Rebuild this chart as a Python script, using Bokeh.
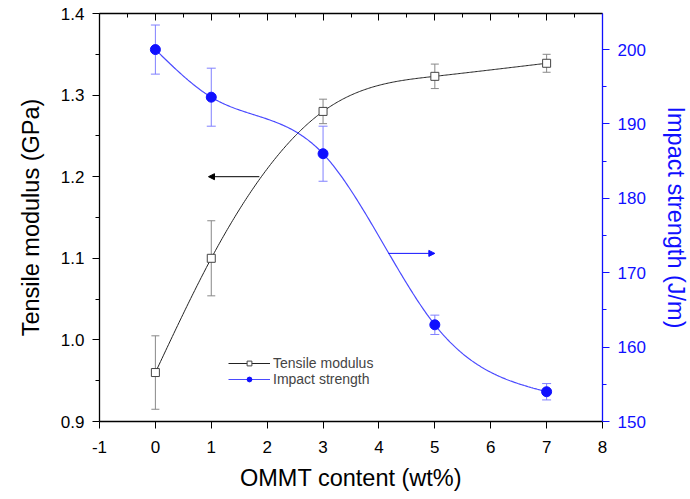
import numpy as np
from bokeh.plotting import figure
from bokeh.models import (Range1d, LinearAxis, FixedTicker, Whisker, TeeHead,
                          ColumnDataSource, Arrow, NormalHead, Legend, LegendItem,
                          PrintfTickFormatter, CustomJSTickFormatter)
from bokeh.embed import file_html
from bokeh.resources import INLINE

# ---- data ----
ommt = [0, 1, 3, 5, 7]
tensile = [0.960, 1.100, 1.280, 1.323, 1.339]
tensile_err = [0.045, 0.046, 0.015, 0.015, 0.011]
impact = [200.0, 193.6, 186.0, 163.0, 154.0]
impact_err = [3.3, 3.9, 3.7, 1.3, 1.1]

# ticks
x_ticks = [-1, 0, 1, 2, 3, 4, 5, 6, 7, 8]
x_minor = [-0.5, 0.5, 1.5, 2.5, 3.5, 4.5, 5.5, 6.5, 7.5]
left_ticks = [0.9, 1.0, 1.1, 1.2, 1.3, 1.4]
left_minor = [0.95, 1.05, 1.15, 1.25, 1.35]
right_ticks = [150, 160, 170, 180, 190, 200]
right_minor = [155, 165, 175, 185, 195]

# arrow annotations (x_tail, x_head, y)
arrow_tensile = [1.86, 0.95, 1.2]
arrow_impact = [4.17, 5.0, 172.6]

BLUE = "#1010ff"
FONT = "Liberation Sans"


def natural_spline(xs, ys, n=300):
    x = np.asarray(xs, float)
    y = np.asarray(ys, float)
    m = len(x)
    h = np.diff(x)
    A = np.zeros((m, m))
    b = np.zeros(m)
    A[0, 0] = 1
    A[-1, -1] = 1
    for i in range(1, m - 1):
        A[i, i - 1] = h[i - 1]
        A[i, i] = 2 * (h[i - 1] + h[i])
        A[i, i + 1] = h[i]
        b[i] = 3 * ((y[i + 1] - y[i]) / h[i] - (y[i] - y[i - 1]) / h[i - 1])
    c = np.linalg.solve(A, b)
    bc = (y[1:] - y[:-1]) / h - h * (2 * c[:-1] + c[1:]) / 3
    d = (c[1:] - c[:-1]) / (3 * h)
    xx = np.linspace(x[0], x[-1], n)
    idx = np.clip(np.searchsorted(x, xx) - 1, 0, m - 2)
    dx = xx - x[idx]
    yy = y[idx] + bc[idx] * dx + c[idx] * dx ** 2 + d[idx] * dx ** 3
    return xx, yy


p = figure(frame_width=503, frame_height=408, output_backend="svg", toolbar_location=None,
           x_range=Range1d(-1, 8), y_range=Range1d(0.9, 1.4),
           min_border_left=99, min_border_right=86, min_border_top=13, min_border_bottom=70,
           x_axis_location=None, y_axis_location=None)
p.extra_y_ranges = {"imp": Range1d(150, 204.85)}
p.xgrid.visible = False
p.ygrid.visible = False
p.outline_line_color = None
p.background_fill_color = "white"
p.border_fill_color = "white"


def style(ax, color="black"):
    ax.axis_line_color = color
    ax.axis_line_width = 1.3
    ax.major_tick_line_color = color
    ax.minor_tick_line_color = color
    ax.major_label_text_color = color
    ax.axis_label_text_color = color
    ax.major_label_text_font = FONT
    ax.axis_label_text_font = FONT
    ax.major_label_text_font_size = "17px"
    ax.axis_label_text_font_size = "23.5px"
    ax.axis_label_text_font_style = "normal"
    ax.major_tick_out = 7
    ax.major_tick_in = 0
    ax.minor_tick_out = 4
    ax.minor_tick_in = 0


xb = LinearAxis(ticker=FixedTicker(ticks=x_ticks, minor_ticks=x_minor),
                formatter=PrintfTickFormatter(format="%d"),
                axis_label="OMMT content (wt%)")
style(xb)
xb.minor_tick_out = 0
xb.major_label_standoff = 12
xb.axis_label_standoff = 9
p.add_layout(xb, "below")

xt = LinearAxis(ticker=FixedTicker(ticks=x_ticks, minor_ticks=x_minor),
                formatter=CustomJSTickFormatter(code="return ''"))
style(xt)
xt.major_tick_out = 0
xt.major_tick_in = 7
xt.minor_tick_out = 0
xt.minor_tick_in = 4
xt.major_label_standoff = 0
p.add_layout(xt, "above")

yl = LinearAxis(ticker=FixedTicker(ticks=left_ticks, minor_ticks=left_minor),
                formatter=PrintfTickFormatter(format="%.1f"),
                axis_label="Tensile modulus (GPa)")
style(yl)
yl.major_label_standoff = 8
yl.axis_label_standoff = 14
p.add_layout(yl, "left")

yr = LinearAxis(y_range_name="imp", ticker=FixedTicker(ticks=right_ticks, minor_ticks=right_minor),
                formatter=PrintfTickFormatter(format="%d"),
                axis_label="Impact strength (J/m)")
style(yr, BLUE)
yr.major_label_standoff = 8
yr.axis_label_standoff = 14
p.add_layout(yr, "right")

# curves
tx, ty = natural_spline(ommt, tensile)
ix, iy = natural_spline(ommt, impact)
l_t = p.line(tx, ty, line_color="#222222", line_width=1)
l_i = p.line(ix, iy, line_color="#4a4aff", line_width=1.2, y_range_name="imp")

# error bars
src_t = ColumnDataSource(dict(x=ommt, y=tensile,
                              lo=[v - e for v, e in zip(tensile, tensile_err)],
                              hi=[v + e for v, e in zip(tensile, tensile_err)]))
src_i = ColumnDataSource(dict(x=ommt, y=impact,
                              lo=[v - e for v, e in zip(impact, impact_err)],
                              hi=[v + e for v, e in zip(impact, impact_err)]))
wt = Whisker(source=src_t, base="x", upper="hi", lower="lo", line_color="#888888", line_width=1,
             upper_head=TeeHead(size=8, line_color="#888888"),
             lower_head=TeeHead(size=8, line_color="#888888"))
wi = Whisker(source=src_i, base="x", upper="hi", lower="lo", line_color="#8080ff", line_width=1,
             y_range_name="imp",
             upper_head=TeeHead(size=9, line_color="#8080ff"),
             lower_head=TeeHead(size=9, line_color="#8080ff"))
p.add_layout(wt)
p.add_layout(wi)

m_t = p.scatter("x", "y", source=src_t, marker="square", size=8, fill_color="white",
                line_color="#444444", line_width=1)
m_i = p.scatter("x", "y", source=src_i, marker="circle", size=10, fill_color=BLUE,
                line_color=BLUE, y_range_name="imp")

# arrows
p.add_layout(Arrow(end=NormalHead(size=6, fill_color="black", line_color="black"),
                   x_start=arrow_tensile[0], y_start=arrow_tensile[2],
                   x_end=arrow_tensile[1], y_end=arrow_tensile[2],
                   line_color="black", line_width=1))
p.add_layout(Arrow(end=NormalHead(size=6, fill_color=BLUE, line_color=BLUE),
                   x_start=arrow_impact[0], y_start=arrow_impact[2],
                   x_end=arrow_impact[1], y_end=arrow_impact[2],
                   line_color=BLUE, line_width=1, y_range_name="imp"))

legend_kw = dict(border_line_color=None, background_fill_alpha=0,
                 glyph_width=42, glyph_height=12, label_height=12, label_standoff=3,
                 label_text_font=FONT, label_text_font_size="14px", padding=0, spacing=0,
                 margin=0)
leg1 = Legend(items=[LegendItem(label="Tensile modulus", renderers=[l_t, m_t])],
              location=(129, 50), **legend_kw)
leg2 = Legend(items=[LegendItem(label="Impact strength", renderers=[l_i, m_i])],
              location=(129, 34), **legend_kw)
p.add_layout(leg1, "center")
p.add_layout(leg2, "center")

open("out.html", "w").write(file_html(p, INLINE))
